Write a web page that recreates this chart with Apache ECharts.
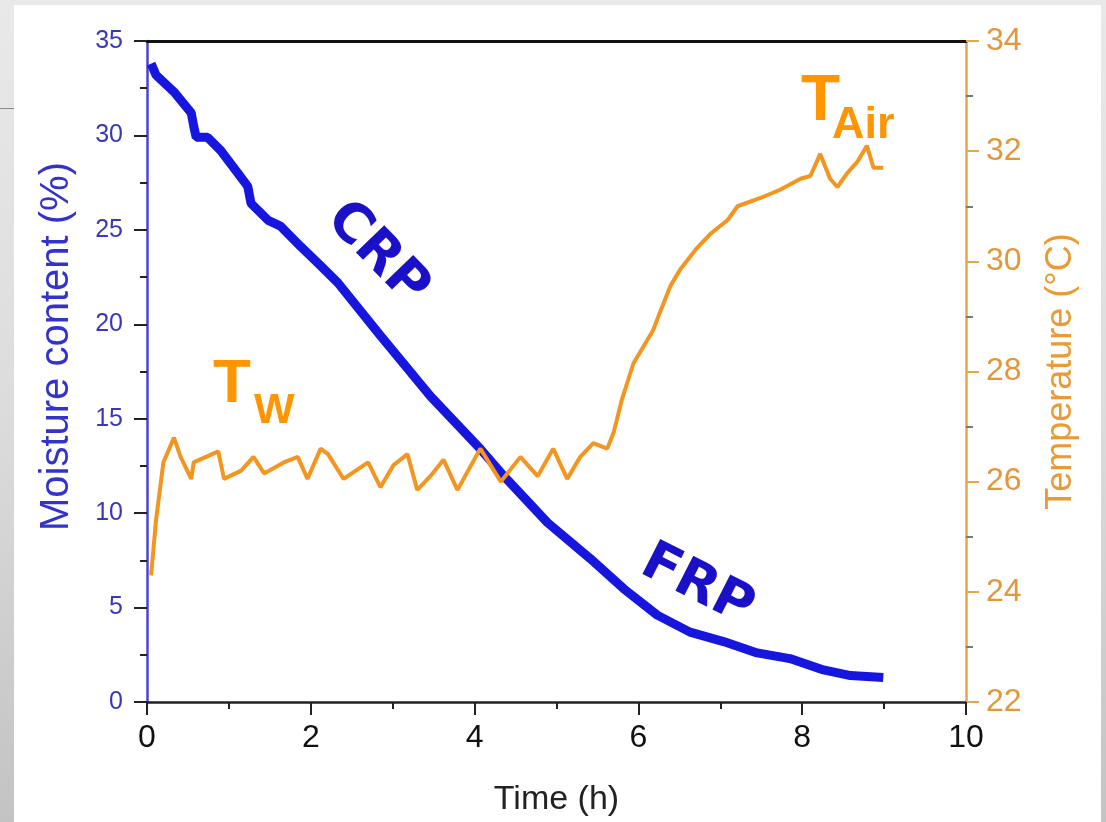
<!DOCTYPE html>
<html>
<head>
<meta charset="utf-8">
<script src="https://cdn.jsdelivr.net/npm/echarts@6/dist/echarts.min.js"></script>
<style>
  html, body { margin: 0; padding: 0; }
  body {
    width: 1106px; height: 822px; overflow: hidden; position: relative;
    background: linear-gradient(to bottom, #e9e9e9 0%, #dcdcdc 50%, #c3c3c3 100%);
  }
  #panel { position: absolute; left: 14px; top: 5px; width: 1087px; height: 817px; background: #fff; }
  #rule { position: absolute; left: 0; top: 108px; width: 14px; height: 1px; background: #8a8a8a; }
  #chart { position: absolute; left: 0; top: 0; width: 1106px; height: 822px; }
</style>
</head>
<body>
<div id="panel"></div>
<div id="rule"></div>
<div id="chart"></div>
<script>
// moisture content (%) vs time (h)
const moistTime = [0.05, 0.11, 0.33, 0.54, 0.57, 0.6, 0.74, 0.9, 1.11, 1.23, 1.27, 1.48, 1.63, 1.88, 2.12,
  2.33, 2.85, 3.46, 4.07, 4.35, 4.89, 5.41, 5.82, 6.23, 6.63, 7.04, 7.45, 7.85, 8.26, 8.59, 8.99];
const moisture = [33.8, 33.2, 32.3, 31.2, 30.5, 29.9, 29.9, 29.2, 28.0, 27.3, 26.4, 25.5, 25.2, 24.1, 23.1,
  22.2, 19.4, 16.2, 13.4, 12.0, 9.5, 7.6, 6.0, 4.6, 3.7, 3.2, 2.6, 2.3, 1.7, 1.4, 1.3];

// temperature (°C) vs time (h)
const tempTime = [0.05, 0.11, 0.2, 0.33, 0.41, 0.54, 0.57, 0.87, 0.94, 1.15, 1.3, 1.43, 1.67, 1.84, 1.96,
  2.12, 2.21, 2.4, 2.7, 2.85, 3.01, 3.18, 3.3, 3.46, 3.62, 3.79, 4.07, 4.32, 4.56, 4.77,
  4.96, 5.13, 5.29, 5.45, 5.62, 5.7, 5.8, 5.94, 6.06, 6.18, 6.27, 6.39, 6.51, 6.72, 6.88,
  7.09, 7.21, 7.49, 7.73, 7.98, 8.1, 8.22, 8.34, 8.43, 8.55, 8.67, 8.79, 8.87, 8.99];
const temperature = [24.3, 25.3, 26.35, 26.8, 26.45, 26.05, 26.35, 26.55, 26.05, 26.2, 26.45, 26.15, 26.35, 26.45, 26.05,
  26.6, 26.5, 26.05, 26.35, 25.9, 26.3, 26.5, 25.85, 26.1, 26.4, 25.85, 26.6, 26.0, 26.45, 26.1,
  26.6, 26.05, 26.45, 26.7, 26.6, 26.9, 27.5, 28.15, 28.45, 28.75, 29.1, 29.55, 29.85, 30.25, 30.5,
  30.75, 31.0, 31.15, 31.3, 31.5, 31.55, 31.95, 31.5, 31.35, 31.6, 31.8, 32.1, 31.7, 31.7];

const xTicks = [0, 2, 4, 6, 8, 10];
const blue = '#1616de';
const orange = '#f4951f';
const font = '"Liberation Sans", Arial, sans-serif';

var chart = echarts.init(document.getElementById('chart'));

chart.setOption({
  backgroundColor: 'transparent',
  animation: false,
  grid: { left: 147, right: 140, top: 41, bottom: 119 },
  xAxis: [{
    type: 'value', min: xTicks[0], max: xTicks[xTicks.length - 1], interval: 2,
    name: 'Time (h)', nameLocation: 'middle', nameGap: 81,
    nameTextStyle: { fontFamily: font, fontSize: 34, color: '#222' },
    axisLine: { onZero: false, lineStyle: { color: '#222', width: 2.5 } },
    axisTick: { inside: false, length: 13, lineStyle: { color: '#222', width: 2 } },
    minorTick: { show: true, splitNumber: 2, length: 7, lineStyle: { color: '#222', width: 2 } },
    axisLabel: { fontFamily: font, fontSize: 32, color: '#111', margin: 20 },
    splitLine: { show: false }
  }, {
    type: 'value', position: 'top', min: 0, max: 10,
    axisLine: { onZero: false, lineStyle: { color: '#111', width: 3 } },
    axisTick: { show: false }, axisLabel: { show: false }, splitLine: { show: false }
  }],
  yAxis: [{
    type: 'value', position: 'left', min: 0, max: 35, interval: 5,
    name: 'Moisture content (%)', nameLocation: 'middle', nameGap: 70,
    nameTextStyle: { fontFamily: font, fontSize: 40, color: '#3333cc', padding: [0, 0, 0, 50] },
    axisLine: { show: true, onZero: false, lineStyle: { color: '#4a44d0', width: 2.5 } },
    axisTick: { length: 13, lineStyle: { color: '#222', width: 2 } },
    minorTick: { show: true, splitNumber: 2, length: 7, lineStyle: { color: '#222', width: 2 } },
    axisLabel: { fontFamily: font, fontSize: 25, color: '#3838bb', margin: 24 },
    splitLine: { show: false }
  }, {
    type: 'value', position: 'right', min: 22, max: 34, interval: 2,
    name: 'Temperature (°C)', nameLocation: 'middle', nameGap: 77,
    nameTextStyle: { fontFamily: font, fontSize: 36, color: '#e99a35' },
    axisLine: { show: true, onZero: false, lineStyle: { color: '#e8a448', width: 2.5 } },
    axisTick: { length: 13, lineStyle: { color: '#e8a448', width: 2 } },
    minorTick: { show: true, splitNumber: 2, length: 7, lineStyle: { color: '#777', width: 2 } },
    axisLabel: { fontFamily: font, fontSize: 32, color: '#e3973a', margin: 20 },
    splitLine: { show: false }
  }],
  series: [{
    type: 'line', name: 'Moisture', xAxisIndex: 0, yAxisIndex: 0,
    data: moistTime.map((t, i) => [t, moisture[i]]),
    symbol: 'none', lineStyle: { color: blue, width: 9 }, z: 3
  }, {
    type: 'line', name: 'Temperature', xAxisIndex: 0, yAxisIndex: 1,
    data: tempTime.map((t, i) => [t, temperature[i]]),
    symbol: 'none', lineStyle: { color: orange, width: 4 }, z: 4
  }],
  graphic: [
    { type: 'text', x: 377, y: 254, rotation: -0.8, z: 10,
      style: { text: 'CRP', font: 'bold 54px "DejaVu Sans"', fill: '#1a10c8', align: 'center', verticalAlign: 'middle' } },
    { type: 'text', x: 697, y: 586, rotation: -0.47, z: 10,
      style: { text: 'FRP', font: 'bold 54px "DejaVu Sans"', fill: '#1a10c8', align: 'center', verticalAlign: 'middle' } },
    { type: 'text', x: 213, y: 385, z: 10,
      style: { text: 'T', font: 'bold 62px ' + font, fill: '#ff9500', align: 'left', verticalAlign: 'middle' } },
    { type: 'text', x: 254, y: 411, z: 10,
      style: { text: 'W', font: 'bold 43px ' + font, fill: '#ff9500', align: 'left', verticalAlign: 'middle' } },
    { type: 'text', x: 801, y: 102, z: 10,
      style: { text: 'T', font: 'bold 64px ' + font, fill: '#ff9500', align: 'left', verticalAlign: 'middle' } },
    { type: 'text', x: 832, y: 126, z: 10,
      style: { text: 'Air', font: 'bold 45px ' + font, fill: '#ff9500', align: 'left', verticalAlign: 'middle' } }
  ]
});
</script>
</body>
</html>
